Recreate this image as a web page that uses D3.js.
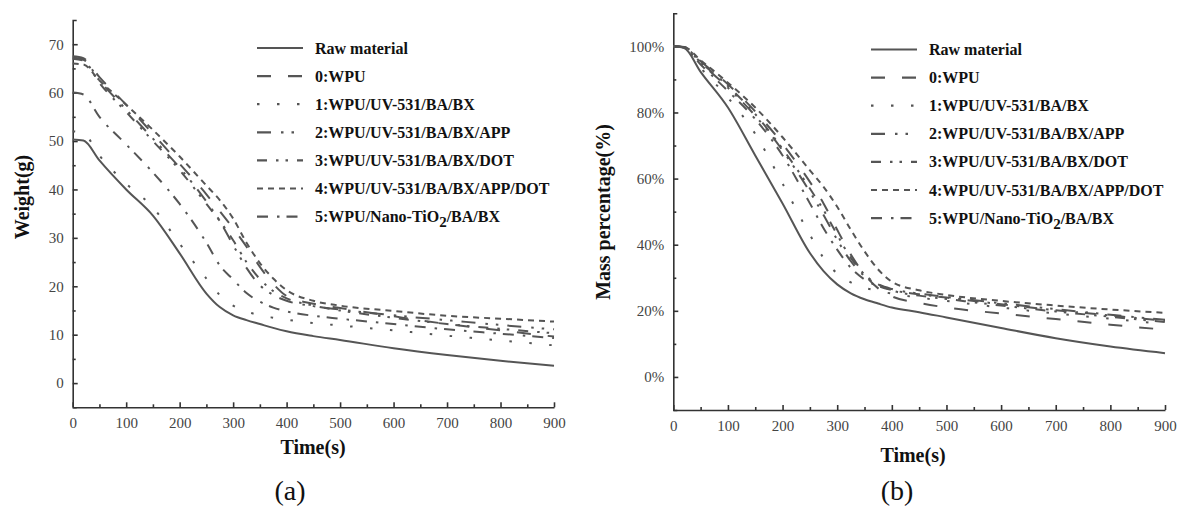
<!DOCTYPE html>
<html>
<head>
<meta charset="utf-8">
<script src="https://cdn.jsdelivr.net/npm/d3@7"></script>
<style>
  body { margin: 0; background: #fff; }
  svg { display: block; }
</style>
</head>
<body>
<svg id="chart" width="1182" height="512"></svg>
<script>
"use strict";

// time grid (s), shared by all the curves
const times = [0, 20, 50, 100, 150, 200, 250, 275, 300, 325, 350, 375, 400, 450, 500, 600, 700, 800, 900];

const legendLabels = ["Raw material", "0:WPU", "1:WPU/UV-531/BA/BX", "2:WPU/UV-531/BA/BX/APP",
  "3:WPU/UV-531/BA/BX/DOT", "4:WPU/UV-531/BA/BX/APP/DOT", "5:WPU/Nano-TiO2/BA/BX"];

// (a) weight in g
const weightRaw = [50.3, 50.1, 46.0, 40.0, 34.6, 26.8, 18.5, 15.7, 14.0, 13.0, 12.2, 11.4, 10.7, 9.7, 8.9, 7.2, 5.8, 4.6, 3.6];
const weight0 = [67.5, 67.1, 63.2, 57.5, 51.5, 45.3, 39.0, 35.5, 32.0, 28.2, 24.0, 20.5, 18.0, 16.4, 15.5, 13.8, 12.2, 10.9, 9.6];
const weight1 = [52.0, 51.6, 47.0, 41.2, 36.3, 28.8, 21.6, 18.2, 16.0, 14.8, 14.0, 13.5, 13.1, 12.4, 11.9, 10.9, 9.8, 8.8, 7.8];
const weight2 = [67.2, 66.8, 62.5, 56.5, 50.5, 44.5, 37.5, 33.5, 28.5, 23.8, 20.2, 18.2, 17.0, 15.9, 15.2, 14.0, 13.0, 12.0, 11.1];
const weight3 = [67.0, 66.6, 62.0, 56.0, 50.0, 44.0, 37.0, 33.5, 29.5, 25.0, 21.5, 19.0, 17.5, 16.0, 15.0, 13.5, 12.2, 11.2, 10.3];
const weight4 = [66.0, 65.8, 62.5, 57.5, 52.3, 46.8, 40.8, 37.8, 34.0, 29.0, 24.8, 21.6, 19.2, 17.0, 16.0, 14.9, 13.9, 13.3, 12.7];
const weight5 = [60.0, 59.6, 55.0, 49.3, 43.5, 37.0, 29.0, 24.3, 21.4, 18.6, 16.8, 15.6, 14.8, 13.9, 13.3, 12.2, 11.1, 10.2, 9.3];

// (b) mass percentage in %
const massRaw = [100, 99.5, 92.3, 81.5, 67.0, 52.5, 37.5, 32.0, 28.0, 25.3, 23.5, 22.2, 21.0, 19.6, 18.0, 14.8, 11.7, 9.2, 7.2];
const mass0 = [100, 99.8, 95.5, 88.5, 80.3, 70.5, 59.0, 52.5, 44.5, 37.0, 31.0, 26.8, 24.4, 22.4, 21.0, 19.2, 17.5, 15.8, 14.3];
const mass1 = [100, 99.5, 93.5, 84.5, 73.5, 58.5, 43.0, 36.0, 31.3, 28.6, 27.0, 26.0, 25.2, 24.0, 23.0, 21.0, 19.2, 17.6, 16.0];
const mass2 = [100, 99.7, 95.0, 87.5, 79.0, 68.5, 56.0, 49.0, 41.5, 35.0, 30.5, 28.0, 26.6, 25.2, 24.2, 22.3, 20.5, 18.8, 17.3];
const mass3 = [100, 99.7, 95.2, 88.0, 79.5, 69.0, 57.0, 50.5, 43.0, 36.0, 31.0, 28.0, 26.2, 24.6, 23.6, 21.6, 19.8, 18.2, 16.6];
const mass4 = [100, 99.8, 95.8, 89.0, 81.5, 72.5, 62.5, 57.5, 51.5, 44.5, 38.0, 32.5, 28.8, 26.2, 24.8, 23.0, 21.6, 20.4, 19.4];
const mass5 = [100, 99.6, 94.5, 86.5, 78.0, 67.0, 52.5, 45.0, 38.5, 33.0, 29.5, 27.5, 26.3, 25.0, 24.0, 22.0, 20.2, 18.6, 17.0];

const xTicks = [0, 100, 200, 300, 400, 500, 600, 700, 800, 900];
const weightTicks = [0, 10, 20, 30, 40, 50, 60, 70];
const massTicks = [0, 20, 40, 60, 80, 100];

const dashes = [null, "14,17", "2.5,17.5", "14,10,2.5,8,2.5,9", "10,9,2.5,7,2.5,9", "6,5", "11,9,2.5,7"];
const ink = "#555";
const axisInk = "#333";
const serif = "'Liberation Serif', 'Times New Roman', serif";

const svg = d3.select("#chart");

function panel(cfg) {
  const g = svg.append("g");
  const x = d3.scaleLinear().domain([0, 900]).range(cfg.xRange);
  const y = d3.scaleLinear().domain(cfg.yDomain).range(cfg.yRange);

  // minor ticks first
  g.append("g")
    .attr("transform", `translate(0,${cfg.yRange[0]})`)
    .call(d3.axisBottom(x).tickValues(d3.range(50, 900, 100)).tickSize(-3).tickFormat(""))
    .call(a => a.select(".domain").remove());
  g.append("g")
    .attr("transform", `translate(${cfg.xRange[0]},0)`)
    .call(d3.axisLeft(y).tickValues(cfg.minor).tickSize(-3).tickFormat(""))
    .call(a => a.select(".domain").remove());

  const xAxis = g.append("g")
    .attr("transform", `translate(0,${cfg.yRange[0]})`)
    .call(d3.axisBottom(x).tickValues(xTicks).tickSizeInner(-5).tickSizeOuter(0).tickPadding(10));
  const yAxis = g.append("g")
    .attr("transform", `translate(${cfg.xRange[0]},0)`)
    .call(d3.axisLeft(y).tickValues(cfg.ticks).tickSizeInner(-5).tickSizeOuter(-4).tickPadding(9).tickFormat(cfg.fmt));

  [xAxis, yAxis].forEach(a => {
    a.selectAll("path, line").attr("stroke", axisInk).attr("stroke-width", 1.6);
    a.selectAll("text").attr("fill", "#444").style("font-family", serif).style("font-size", "15px");
  });
  g.selectAll("g.tick line").attr("stroke", axisInk).attr("stroke-width", 1.6);

  const line = d3.line()
    .x((d, i) => x(times[i]))
    .y(d => y(d))
    .curve(d3.curveMonotoneX);

  g.append("g").selectAll("path")
    .data(cfg.series)
    .join("path")
      .attr("d", d => line(d))
      .attr("fill", "none")
      .attr("stroke", ink)
      .attr("stroke-width", 2)
      .attr("stroke-dasharray", (d, i) => dashes[i]);

  // legend
  const leg = g.append("g").selectAll("g")
    .data(legendLabels)
    .join("g")
      .attr("transform", (d, i) => `translate(${cfg.legX},${cfg.legY + i * 28.1})`);
  leg.append("line")
    .attr("x1", 0).attr("x2", 46)
    .attr("stroke", ink).attr("stroke-width", 2.2)
    .attr("stroke-dasharray", (d, i) => dashes[i]);
  const lt = leg.append("text")
    .attr("x", 58).attr("y", 5.5)
    .style("font-family", serif).style("font-size", "16px").style("font-weight", "bold")
    .attr("fill", "#111");
  lt.each(function(d) {
    const t = d3.select(this);
    const m = d.match(/^(.*TiO)2(.*)$/);
    if (m) {
      t.append("tspan").text(m[1]);
      t.append("tspan").attr("dy", 5).style("font-size", "15px").text("2");
      t.append("tspan").attr("dy", -5).text(m[2]);
    } else {
      t.text(d);
    }
  });

  // titles
  g.append("text")
    .attr("transform", `translate(${cfg.yTitleX},${cfg.yTitleY}) rotate(-90)`)
    .attr("text-anchor", "middle")
    .style("font-family", serif).style("font-size", "20px").style("font-weight", "bold")
    .attr("fill", "#111")
    .text(cfg.yTitle);
  g.append("text")
    .attr("x", cfg.xTitleX).attr("y", cfg.xTitleY)
    .attr("text-anchor", "middle")
    .style("font-family", serif).style("font-size", "20px").style("font-weight", "bold")
    .attr("fill", "#111")
    .text("Time(s)");
  g.append("text")
    .attr("x", cfg.tagX).attr("y", 500)
    .attr("text-anchor", "middle")
    .style("font-family", serif).style("font-size", "28px")
    .attr("fill", "#111")
    .text(cfg.tag);
}

panel({
  xRange: [72.7, 554],
  yDomain: [-5, 75],
  yRange: [407.3, 20],
  ticks: weightTicks,
  minor: [5, 15, 25, 35, 45, 55, 65],
  fmt: d => d,
  series: [weightRaw, weight0, weight1, weight2, weight3, weight4, weight5],
  legX: 257, legY: 48,
  yTitle: "Weight(g)", yTitleX: 29, yTitleY: 197,
  xTitleX: 313, xTitleY: 454,
  tag: "(a)", tagX: 290
});

panel({
  xRange: [673.3, 1165],
  yDomain: [-10, 110],
  yRange: [410, 13.3],
  ticks: massTicks,
  minor: [10, 30, 50, 70, 90],
  fmt: d => d + "%",
  series: [massRaw, mass0, mass1, mass2, mass3, mass4, mass5],
  legX: 871, legY: 49.5,
  yTitle: "Mass percentage(%)", yTitleX: 610, yTitleY: 212,
  xTitleX: 913, xTitleY: 462,
  tag: "(b)", tagX: 897
});
</script>
</body>
</html>
